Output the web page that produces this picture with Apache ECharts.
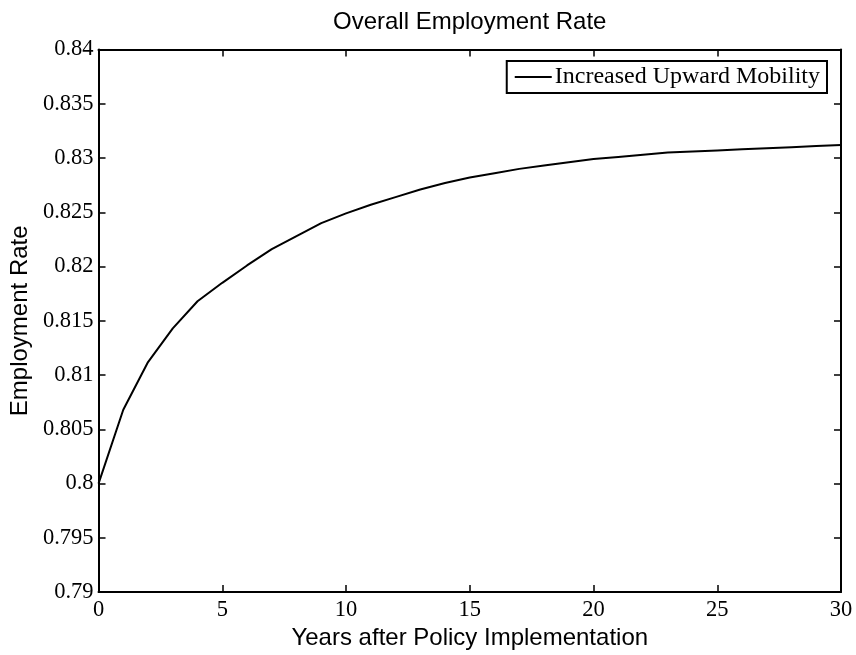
<!DOCTYPE html>
<html>
<head>
<meta charset="utf-8">
<script src="https://cdn.jsdelivr.net/npm/echarts@6/dist/echarts.min.js"></script>
<style>
html,body{margin:0;padding:0;background:#fff;}
#chart{width:856px;height:655px;}
</style>
</head>
<body>
<div id="chart"></div>
<script>
const years = [0,1,2,3,4,5,6,7,8,9,10,11,12,13,14,15,16,17,18,19,20,21,22,23,24,25,26,27,28,29,30];
const rate = [0.8000,0.8068,0.8112,0.8143,0.8168,0.8185,0.8201,0.8216,0.8228,0.8240,0.8249,
              0.8257,0.8264,0.8271,0.8277,0.8282,0.8286,0.8290,0.8293,0.8296,0.8299,
              0.8301,0.8303,0.8305,0.8306,0.8307,0.8308,0.8309,0.8310,0.8311,0.8312];
const seriesName = 'Increased Upward Mobility';
const titleText = 'Overall Employment Rate';
const xName = 'Years after Policy Implementation';
const yName = 'Employment Rate';
const xTicks = [0,5,10,15,20,25,30];
const yTicks = [0.79,0.795,0.8,0.805,0.81,0.815,0.82,0.825,0.83,0.835,0.84];

const chart = echarts.init(document.getElementById('chart'));
const serif = '"Liberation Serif", "Times New Roman", serif';
const sans = '"Liberation Sans", Arial, Helvetica, sans-serif';
const fmtY = v => String(parseFloat(Number(v).toFixed(3)));
const fmtX = v => String(parseFloat(Number(v).toFixed(3)));

const axisLine = {show:true, onZero:false, lineStyle:{color:'#000', width:2}};
const tick = {show:true, inside:true, length:7, lineStyle:{color:'#000', width:1.5}};

chart.setOption({
  animation:false,
  backgroundColor:'#fff',
  title:{
    text:titleText,
    left:333, top:10, padding:0,
    textStyle:{fontFamily:sans, fontSize:24, fontWeight:'normal', color:'#000'}
  },
  legend:{
    data:[{name:seriesName, icon:'rect'}],
    right:29, top:61,
    orient:'vertical',
    borderColor:'#000', borderWidth:2,
    backgroundColor:'#fff',
    padding:[3,7,3,8],
    itemWidth:37, itemHeight:2, itemGap:0,
    itemStyle:{color:'#000', borderWidth:0},
    textStyle:{fontFamily:serif, fontSize:24, color:'#000', lineHeight:26, padding:[0,0,0,-2]}
  },
  grid:{left:98, right:15, top:49.5, bottom:52, containLabel:false},
  xAxis:[{
    type:'value', min:xTicks[0], max:xTicks[xTicks.length-1], interval:5,
    name:xName, nameLocation:'middle', nameGap:29,
    nameTextStyle:{fontFamily:sans, fontSize:24, color:'#000'},
    axisLine:axisLine, axisTick:tick, splitLine:{show:false},
    axisLabel:{fontFamily:serif, fontSize:22.5, color:'#000', margin:6, formatter:fmtX}
  },{
    type:'value', position:'top', min:xTicks[0], max:xTicks[xTicks.length-1], interval:5,
    axisLine:axisLine, axisTick:tick, splitLine:{show:false}, axisLabel:{show:false}
  }],
  yAxis:[{
    type:'value', min:yTicks[0], max:yTicks[yTicks.length-1], interval:0.005,
    name:yName, nameLocation:'middle', nameGap:62,
    nameTextStyle:{fontFamily:sans, fontSize:24, color:'#000'},
    axisLine:axisLine, axisTick:tick, splitLine:{show:false},
    axisLabel:{fontFamily:serif, fontSize:22.5, color:'#000', margin:5, formatter:fmtY}
  },{
    type:'value', position:'right', min:yTicks[0], max:yTicks[yTicks.length-1], interval:0.005,
    axisLine:axisLine, axisTick:tick, splitLine:{show:false}, axisLabel:{show:false}
  }],
  series:[{
    name:seriesName,
    type:'line',
    data:years.map((y,i)=>[y, rate[i]]),
    symbol:'none', showSymbol:false,
    lineStyle:{color:'#000', width:2},
    itemStyle:{color:'#000'}
  }]
});
</script>
</body>
</html>
